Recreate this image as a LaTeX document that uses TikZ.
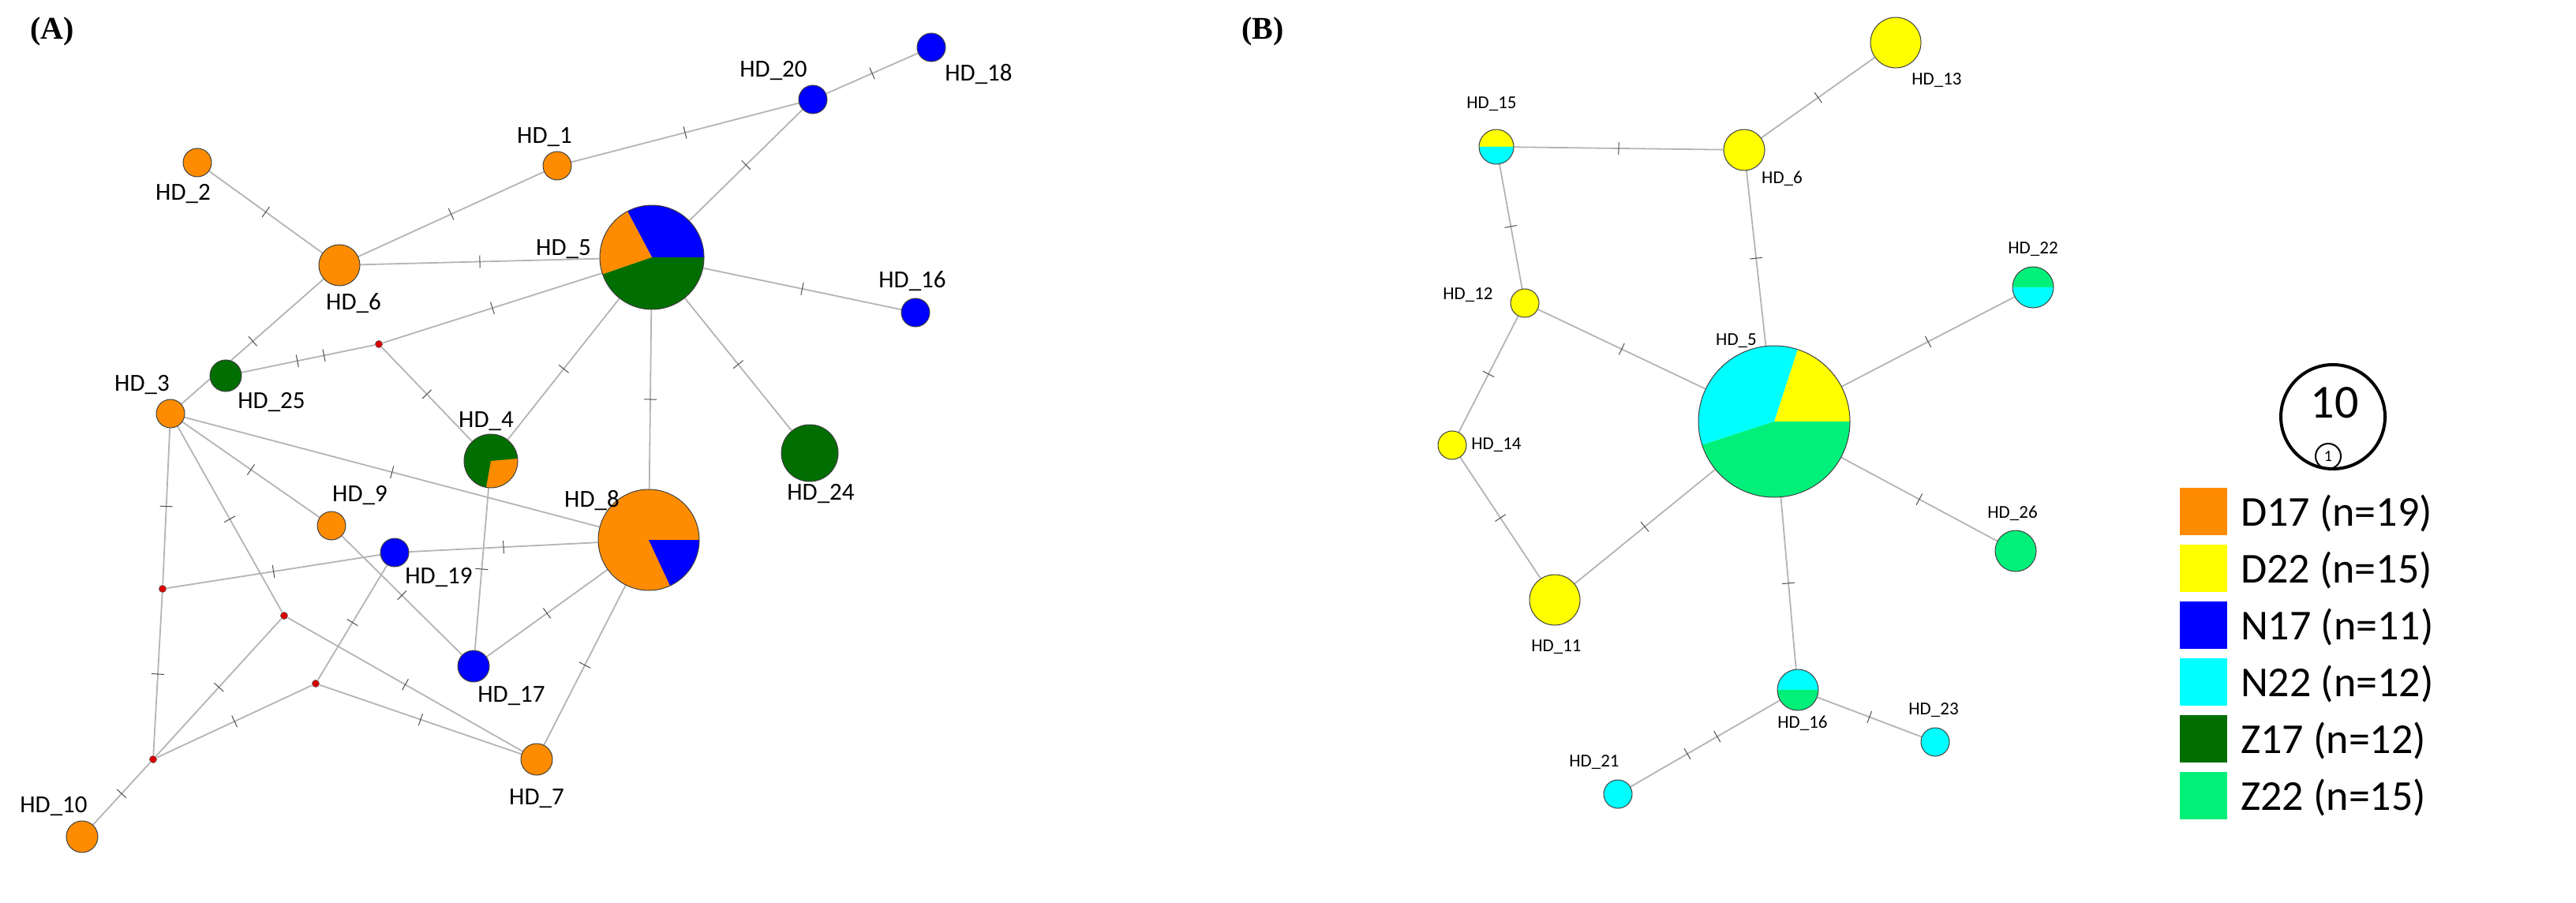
\documentclass[tikz,border=0pt]{standalone}
\usepackage{fontspec}
\setmainfont{Liberation Serif}
\newfontfamily\lab{Carlito}
\usetikzlibrary{decorations.markings}
\definecolor{cD}{HTML}{FF8C00}
\definecolor{cDD}{HTML}{FFFF00}
\definecolor{cN}{HTML}{0000FF}
\definecolor{cNN}{HTML}{00FFFF}
\definecolor{cZ}{HTML}{006E00}
\definecolor{cZZ}{HTML}{00F07A}
\definecolor{edge}{HTML}{B4B4B4}
\tikzset{
  e/.style={draw=edge,line width=0.9pt,postaction={decorate,decoration={markings,mark=at position 0.5 with {\draw[black!70,line width=0.5pt] (0,-4pt)--(0,4pt);}}}},
  ee/.style={draw=edge,line width=0.9pt,postaction={decorate,decoration={markings,mark=at position 0.42 with {\draw[black!70,line width=0.5pt] (0,-4pt)--(0,4pt);},mark=at position 0.62 with {\draw[black!70,line width=0.5pt] (0,-4pt)--(0,4pt);}}}},
  hl/.style={font=\lab\fontsize{15.5}{15.5}\selectfont},
  hlb/.style={font=\lab\fontsize{11.5}{11.5}\selectfont},
  outl/.style={draw=black!75,line width=0.5pt},
}
\newcommand\hap[3]{\node[circle,inner sep=0pt,minimum size=#3*2pt] (#1) at (#2) {};}
\newcommand\med[2]{\node[circle,inner sep=0pt,minimum size=5pt] (#1) at (#2) {};}
% \wdg{center}{r}{a}{b}{color}, angles counterclockwise as seen
\newcommand\wdg[5]{\begin{scope}[shift={(#1)},x=1pt,y=1pt]\fill[#5] (0,0) -- (#3:#2) arc[start angle=#3,end angle=#4,radius=#2] -- cycle;\end{scope}}
\newcommand\disc[3]{\fill[#3] (#1) circle[radius=#2pt]; \draw[outl] (#1) circle[radius=#2pt];}
\begin{document}
\begin{tikzpicture}[x=1pt,y=-1pt]
\useasboundingbox (0,0) rectangle (1632,572);
% ---------- Panel A nodes
\hap{a18}{590,30}{9} \hap{a20}{515,63}{9} \hap{a1}{353,105}{9} \hap{a2}{125,103}{9}
\hap{a6}{215,168}{13} \hap{a5}{413,163}{33} \hap{a16}{580,198}{9} \hap{a25}{143,238}{10}
\hap{a3}{108,262}{9} \hap{a4}{311,292}{17} \hap{a24}{513,287}{18} \hap{a8}{411,342}{32}
\hap{a9}{210,333}{9} \hap{a19}{250,350}{9} \hap{a17}{300,422}{10} \hap{a7}{340,481}{10}
\hap{a10}{52,530}{10}
\med{m1}{240,218} \med{ma}{103,373} \med{mb}{180,390} \med{mc}{200,433} \med{md}{97,481}
% edges A
\draw[e] (a18)--(a20); \draw[e] (a20)--(a1); \draw[e] (a20)--(a5); \draw[e] (a1)--(a6);
\draw[e] (a2)--(a6); \draw[e] (a6)--(a5); \draw[e] (a6)--(a3); \draw[ee] (a25)--(m1);
\draw[e] (m1)--(a5); \draw[e] (m1)--(a4); \draw[e] (a5)--(a4); \draw[e] (a5)--(a8);
\draw[e] (a5)--(a24); \draw[e] (a5)--(a16); \draw[e] (a3)--(a8); \draw[e] (a3)--(a9);
\draw[e] (a9)--(a17); \draw[e] (a3)--(ma); \draw[e] (ma)--(md); \draw[e] (a3)--(mb);
\draw[e] (ma)--(a19); \draw[e] (a19)--(a8); \draw[e] (mb)--(md); \draw[e] (mb)--(a7);
\draw[e] (mc)--(md); \draw[e] (mc)--(a19); \draw[e] (mc)--(a7); \draw[e] (a4)--(a17);
\draw[e] (a17)--(a8); \draw[e] (a8)--(a7); \draw[e] (md)--(a10);
% discs A
\disc{a18}{9}{cN} \disc{a20}{9}{cN} \disc{a1}{9}{cD} \disc{a2}{9}{cD} \disc{a6}{13}{cD}
\disc{a16}{9}{cN} \disc{a25}{10}{cZ} \disc{a3}{9}{cD} \disc{a24}{18}{cZ} \disc{a9}{9}{cD}
\disc{a19}{9}{cN} \disc{a17}{10}{cN} \disc{a7}{10}{cD} \disc{a10}{10}{cD}
\wdg{a5}{33}{0}{118}{cN} \wdg{a5}{33}{118}{199}{cD} \wdg{a5}{33}{199}{360}{cZ} \draw[outl] (a5) circle[radius=33pt];
\fill[cZ] (a4) circle[radius=17pt]; \wdg{a4}{17}{-100}{5}{cD} \draw[outl] (a4) circle[radius=17pt];
\fill[cD] (a8) circle[radius=32pt]; \wdg{a8}{32}{-65}{0}{cN} \draw[outl] (a8) circle[radius=32pt];
\foreach \m in {m1,ma,mb,mc,md} {\fill[red!85!black] (\m) circle[radius=2.3pt]; \draw[black!60,line width=0.3pt] (\m) circle[radius=2.3pt];}
% labels A
\node[font=\bfseries\fontsize{20}{20}\selectfont] (tA) at (33,20) {(A)};
\node[hl] (l18) at (620,47) {HD\_18}; \node[hl] (l20) at (490,45) {HD\_20};
\node[hl] (l1) at (345,87) {HD\_1}; \node[hl] (l2) at (116,123) {HD\_2};
\node[hl] (l6) at (224,192) {HD\_6}; \node[hl] (l5) at (357,158) {HD\_5};
\node[hl] (l16) at (578,178) {HD\_16}; \node[hl] (l25) at (172,255) {HD\_25};
\node[hl] (l3) at (90,244) {HD\_3}; \node[hl] (l4) at (308,267) {HD\_4};
\node[hl] (l24) at (520,313) {HD\_24}; \node[hl] (l8) at (375,317) {HD\_8};
\node[hl] (l9) at (228,314) {HD\_9}; \node[hl] (l19) at (278,366) {HD\_19};
\node[hl] (l17) at (324,441) {HD\_17}; \node[hl] (l7) at (340,506) {HD\_7};
\node[hl] (l10) at (34,511) {HD\_10};
% ---------- Panel B nodes
\hap{b13}{1201,27}{16} \hap{b15}{948,93}{11} \hap{b6}{1105,95}{13} \hap{b12}{966,192}{9}
\hap{b22}{1288,182}{13} \hap{b5}{1124,267}{48} \hap{b14}{920,282}{9} \hap{b26}{1277,349}{13}
\hap{b11}{985,380}{16} \hap{b16}{1139,437}{13} \hap{b23}{1226,470}{9} \hap{b21}{1025,503}{9}
\draw[e] (b13)--(b6); \draw[e] (b15)--(b6); \draw[e] (b15)--(b12); \draw[e] (b6)--(b5);
\draw[e] (b12)--(b5); \draw[e] (b12)--(b14); \draw[e] (b14)--(b11); \draw[e] (b11)--(b5);
\draw[e] (b22)--(b5); \draw[e] (b26)--(b5); \draw[e] (b5)--(b16); \draw[e] (b16)--(b23);
\draw[ee] (b16)--(b21);
\disc{b13}{16}{cDD} \disc{b6}{13}{cDD} \disc{b12}{9}{cDD} \disc{b14}{9}{cDD}
\disc{b26}{13}{cZZ} \disc{b11}{16}{cDD} \disc{b23}{9}{cNN} \disc{b21}{9}{cNN}
\wdg{b15}{11}{0}{180}{cDD} \wdg{b15}{11}{180}{360}{cNN} \draw[outl] (b15) circle[radius=11pt];
\wdg{b22}{13}{0}{180}{cZZ} \wdg{b22}{13}{180}{360}{cNN} \draw[outl] (b22) circle[radius=13pt];
\wdg{b16}{13}{0}{180}{cNN} \wdg{b16}{13}{180}{360}{cZZ} \draw[outl] (b16) circle[radius=13pt];
\wdg{b5}{48}{0}{72}{cDD} \wdg{b5}{48}{72}{198}{cNN} \wdg{b5}{48}{198}{360}{cZZ} \draw[outl] (b5) circle[radius=48pt];
\node[font=\bfseries\fontsize{20}{20}\selectfont] (tB) at (800,20) {(B)};
\node[hlb] (m13) at (1227,51) {HD\_13}; \node[hlb] (m15) at (945,66) {HD\_15};
\node[hlb] (m6) at (1129,113) {HD\_6}; \node[hlb] (m12) at (930,187) {HD\_12};
\node[hlb] (m22) at (1288,158) {HD\_22}; \node[hlb] (m5) at (1100,216) {HD\_5};
\node[hlb] (m14) at (948,282) {HD\_14}; \node[hlb] (m26) at (1275,325) {HD\_26};
\node[hlb] (m11) at (986,410) {HD\_11}; \node[hlb] (m16) at (1142,458) {HD\_16};
\node[hlb] (m23) at (1225,450) {HD\_23}; \node[hlb] (m21) at (1010,483) {HD\_21};
% ---------- legend
\draw[line width=2pt] (1478,264) circle[radius=33pt];
\node[font=\lab\fontsize{30}{30}\selectfont] (s10) at (1479,255) {10};
\draw[line width=1pt] (1475,289) circle[radius=8pt];
\node[font=\lab\fontsize{10}{10}\selectfont] (s1) at (1475,289) {1};
\foreach \c/\t [count=\i from 0] in {cD/D17 (n=19),cDD/D22 (n=15),cN/N17 (n=11),cNN/N22 (n=12),cZ/Z17 (n=12),cZZ/Z22 (n=15)} {
  \fill[\c] (1381,{309+\i*36}) rectangle (1411,{339+\i*36});
  \node[anchor=west,font=\lab\fontsize{27}{27}\selectfont] (lg\i) at (1416,{325+\i*36}) {\t};
}
\end{tikzpicture}
\end{document}
